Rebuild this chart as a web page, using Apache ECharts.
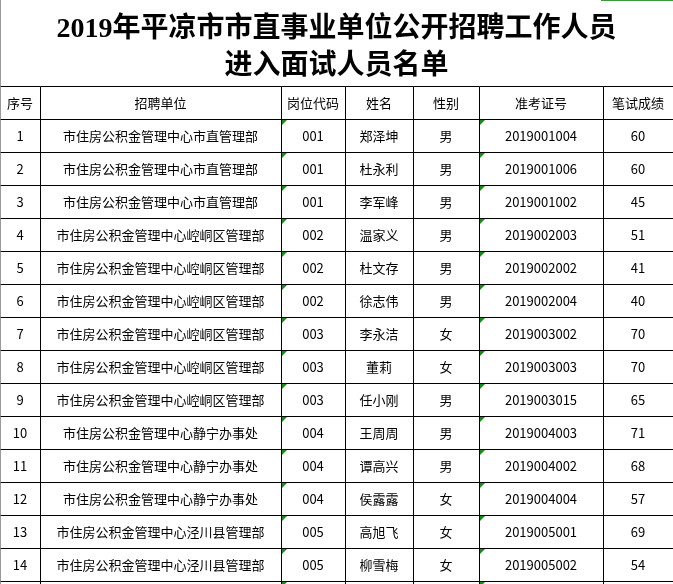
<!DOCTYPE html>
<html>
<head>
<meta charset="utf-8">
<script src="https://cdn.jsdelivr.net/npm/echarts@6/dist/echarts.min.js"></script>
<style>html,body{margin:0;padding:0;background:#fff;}#main{width:673px;height:584px;}</style>
</head>
<body>
<div id="main"></div>
<script>
// ---- data ----
const titleLines = ['2019年平凉市市直事业单位公开招聘工作人员', '进入面试人员名单'];
const headers = ['序号', '招聘单位', '岗位代码', '姓名', '性别', '准考证号', '笔试成绩'];
const seqNos = ['1','2','3','4','5','6','7','8','9','10','11','12','13','14'];
const units = [
  '市住房公积金管理中心市直管理部','市住房公积金管理中心市直管理部','市住房公积金管理中心市直管理部',
  '市住房公积金管理中心崆峒区管理部','市住房公积金管理中心崆峒区管理部','市住房公积金管理中心崆峒区管理部',
  '市住房公积金管理中心崆峒区管理部','市住房公积金管理中心崆峒区管理部','市住房公积金管理中心崆峒区管理部',
  '市住房公积金管理中心静宁办事处','市住房公积金管理中心静宁办事处','市住房公积金管理中心静宁办事处',
  '市住房公积金管理中心泾川县管理部','市住房公积金管理中心泾川县管理部'
];
const posCodes = ['001','001','001','002','002','002','003','003','003','004','004','004','005','005'];
const names = ['郑泽坤','杜永利','李军峰','温家义','杜文存','徐志伟','李永洁','董莉','任小刚','王周周','谭高兴','侯露露','高旭飞','柳雪梅'];
const genders = ['男','男','男','男','男','男','女','女','男','男','男','女','女','女'];
const examIds = ['2019001004','2019001006','2019001002','2019002003','2019002002','2019002004','2019003002','2019003003','2019003015','2019004003','2019004002','2019004004','2019005001','2019005002'];
const scores = [60, 60, 45, 51, 41, 40, 70, 70, 65, 71, 68, 57, 69, 54];

// ---- layout ----
const colWidths = [40, 241, 64, 68, 66, 124, 70];
const textCols = [2, 5]; // columns stored as text (green marker)
const colEdges = [0];
colWidths.forEach(w => colEdges.push(colEdges[colEdges.length - 1] + w));
const tableWidth = colEdges[colEdges.length - 1];
const rowCount = seqNos.length + 1; // header + data rows

const columns = [seqNos, units, posCodes, names, genders, examIds, scores];
const cells = [];
headers.forEach((h, c) => cells.push([c, 0, h, 1]));
for (let r = 0; r < seqNos.length; r++) {
  columns.forEach((col, c) => cells.push([c, r + 1, String(col[r]), 0]));
}
// following (cut off) row: borders only
headers.forEach((h, c) => cells.push([c, rowCount, '', 0]));

const px = v => Math.round(v) + 0.5;

function renderItem(params, api) {
  const c = api.value(0), r = api.value(1);
  const text = cells[params.dataIndex][2];
  const isHeader = cells[params.dataIndex][3] === 1;
  const p0 = api.coord([colEdges[c], r]);
  const p1 = api.coord([colEdges[c + 1], r + 1]);
  const x0 = px(p0[0]), y0 = px(p0[1]), x1 = px(p1[0]), y1 = px(p1[1]);
  const children = [
    { type: 'line', shape: { x1: x0, y1: y0, x2: x1, y2: y0 }, style: { stroke: '#000', lineWidth: 1 } },
    { type: 'line', shape: { x1: x0, y1: y0, x2: x0, y2: y1 }, style: { stroke: c === 0 ? '#9a9a9a' : '#000', lineWidth: 1 } },
    { type: 'line', shape: { x1: x0, y1: y1, x2: x1, y2: y1 }, style: { stroke: '#000', lineWidth: r === rowCount ? 0 : 1 } },
    { type: 'text', style: { text: text, x: (p0[0] + p1[0]) / 2, y: (p0[1] + p1[1]) / 2 + 1, align: 'center', verticalAlign: 'middle',
      fill: '#000', font: (isHeader ? 'normal ' : 'normal ') + '13px "Noto Sans CJK SC", sans-serif' } }
  ];
  if (!isHeader && textCols.indexOf(c) >= 0) {
    const bx = Math.round(p0[0]) + 1, by = Math.round(p0[1]) + 1;
    children.push({ type: 'polygon', shape: { points: [[bx, by], [bx + 5, by], [bx, by + 5]] }, style: { fill: '#1c8a1c' } });
  }
  return { type: 'group', children: children };
}

const chart = echarts.init(document.getElementById('main'), null, { renderer: 'canvas' });
chart.setOption({
  animation: false,
  backgroundColor: '#fff',
  title: {
    text: titleLines.join('\n'),
    left: 'center',
    top: 6,
    textStyle: { fontSize: 28, fontWeight: 'bold', lineHeight: 37, color: '#000',
      fontFamily: '"Liberation Serif", "Noto Sans CJK SC", serif' }
  },
  graphic: [
    { type: 'line', shape: { x1: 0.5, y1: 0, x2: 0.5, y2: 584 }, style: { stroke: '#9a9a9a', lineWidth: 1 } },
    { type: 'line', shape: { x1: 601, y1: 0.5, x2: 673, y2: 0.5 }, style: { stroke: '#3a9a3a', lineWidth: 1 } }
  ],
  grid: { left: 0, right: 0, top: 86, height: 33 * rowCount, containLabel: false },
  xAxis: { type: 'value', min: 0, max: tableWidth, show: false },
  yAxis: { type: 'value', min: 0, max: rowCount, inverse: true, show: false },
  series: [{
    type: 'custom',
    clip: false,
    renderItem: renderItem,
    data: cells.map(d => [d[0], d[1]])
  }]
});
</script>
</body>
</html>
